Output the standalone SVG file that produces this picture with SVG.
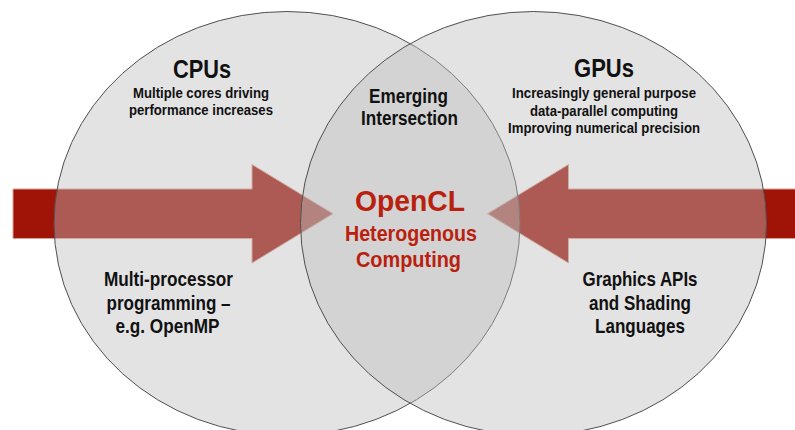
<svg xmlns="http://www.w3.org/2000/svg" width="795" height="430" viewBox="0 0 795 430">
  <style>
    .bg { fill: #ffffff; }
    .arrow { fill: #a01408; stroke: #dca090; stroke-width: 1; }
    .venn { fill: #bcbcbc; fill-opacity: 0.42; stroke: #505050; stroke-width: 1; }
    text { font-family: "Liberation Sans Narrow", "Liberation Sans", Arial, sans-serif; font-weight: bold; text-anchor: middle; fill: #111111; }
    .title { font-size: 25px; }
    .sub { font-size: 15px; }
    .mid { font-size: 20px; }
    .low { font-size: 21px; }
    .red { fill: #b9200e; }
    .big { font-size: 29px; }
    .redsub { font-size: 21.5px; }
  </style>
  <rect class="bg" x="0" y="0" width="795" height="430"/>

  <g id="connectors">
    <polygon id="arrow-left" class="arrow" points="13,189 252,189 252,164.5 333,213.7 252,263 252,238.5 13,238.5"/>
    <polygon id="arrow-right" class="arrow" points="808,189 568.5,189 568.5,164.5 487.5,213.7 568.5,263 568.5,238.5 808,238.5"/>
  </g>

  <g id="cpus">
    <ellipse class="venn" cx="287" cy="223.5" rx="233" ry="212"/>
    <text class="title" x="202" y="78" textLength="58" lengthAdjust="spacingAndGlyphs">CPUs</text>
    <text class="sub" x="201" y="98" textLength="136" lengthAdjust="spacingAndGlyphs">Multiple cores driving</text>
    <text class="sub" x="201" y="115" textLength="144" lengthAdjust="spacingAndGlyphs">performance increases</text>
    <text class="low" x="168.5" y="286" textLength="129" lengthAdjust="spacingAndGlyphs">Multi-processor</text>
    <text class="low" x="168.5" y="309.5" textLength="124" lengthAdjust="spacingAndGlyphs">programming –</text>
    <text class="low" x="167.5" y="333" textLength="104" lengthAdjust="spacingAndGlyphs">e.g. OpenMP</text>
  </g>

  <g id="gpus">
    <ellipse class="venn" cx="533.5" cy="223.5" rx="233" ry="212"/>
    <text class="title" x="604" y="77" textLength="60" lengthAdjust="spacingAndGlyphs">GPUs</text>
    <text class="sub" x="604" y="98" textLength="184" lengthAdjust="spacingAndGlyphs">Increasingly general purpose</text>
    <text class="sub" x="604" y="115.5" textLength="148" lengthAdjust="spacingAndGlyphs">data-parallel computing</text>
    <text class="sub" x="604" y="133" textLength="192" lengthAdjust="spacingAndGlyphs">Improving numerical precision</text>
    <text class="low" x="640" y="286" textLength="115" lengthAdjust="spacingAndGlyphs">Graphics APIs</text>
    <text class="low" x="640" y="309.5" textLength="102" lengthAdjust="spacingAndGlyphs">and Shading</text>
    <text class="low" x="640" y="333" textLength="90" lengthAdjust="spacingAndGlyphs">Languages</text>
  </g>

  <g id="intersection">
    <text class="mid" x="408.5" y="103" textLength="79" lengthAdjust="spacingAndGlyphs">Emerging</text>
    <text class="mid" x="409.5" y="125" textLength="97" lengthAdjust="spacingAndGlyphs">Intersection</text>
    <text class="big red" x="410" y="211" textLength="110" lengthAdjust="spacingAndGlyphs">OpenCL</text>
    <text class="redsub red" x="411" y="241" textLength="132" lengthAdjust="spacingAndGlyphs">Heterogenous</text>
    <text class="redsub red" x="408.5" y="267" textLength="105" lengthAdjust="spacingAndGlyphs">Computing</text>
  </g>
</svg>
